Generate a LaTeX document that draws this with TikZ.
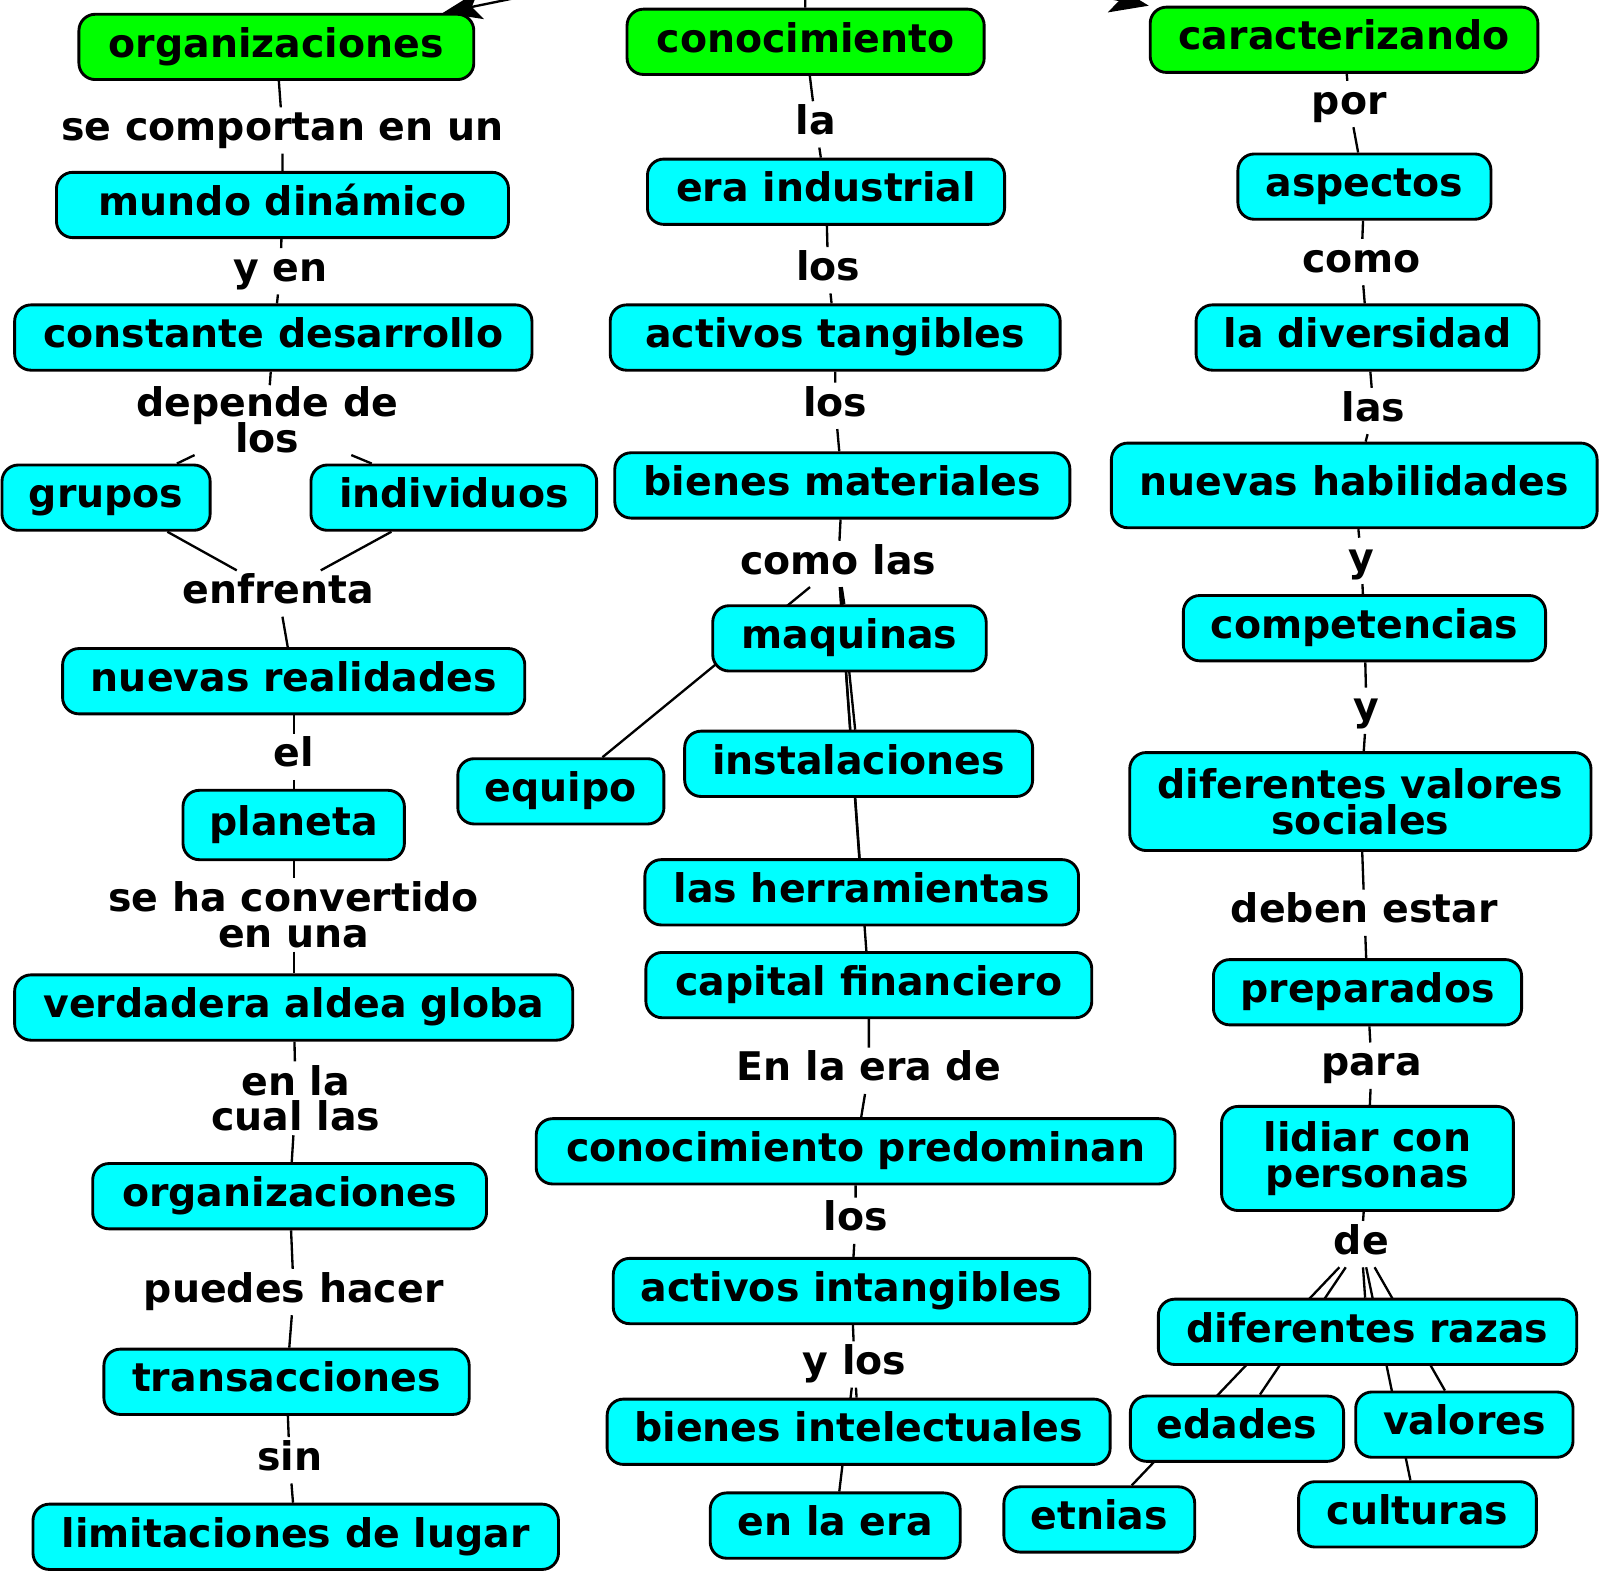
\documentclass[tikz,border=0pt]{standalone}
\usepackage{fontspec}
\newfontfamily\mapafont{DejaVu Sans}
\usetikzlibrary{arrows.meta,backgrounds}
\definecolor{cmcian}{RGB}{0,255,255}
\definecolor{cmverde}{RGB}{0,255,0}
\lineskiplimit=-10pt
\tikzset{
  concepto/.style={draw, line width=0.8pt, rounded corners=0.16cm, fill=cmcian,
    font=\mapafont\bfseries\fontsize{11}{10}\selectfont, align=center,
    text height=0.29cm, text depth=0.09cm, inner xsep=0.1cm, inner ysep=0.12cm,
    minimum height=0.64cm},
  tema/.style={concepto, fill=cmverde},
  enlace/.style={font=\mapafont\bfseries\fontsize{11}{10}\selectfont, align=center,
    text height=0.29cm, text depth=0.09cm, inner sep=0.03cm},
  doble/.style={text height=, text depth=},
  linea/.style={line width=0.65pt},
  flecha/.style={linea, -{Stealth[length=0.38cm,width=0.28cm,inset=0.09cm]}}
}
\begin{document}
\begin{tikzpicture}[x=0.01cm, y=-0.01cm]
\useasboundingbox (0,0) rectangle (1568,1548);
\clip (0,0) rectangle (1568,1548);
\coordinate (raiz) at (789,-60);
% columna izquierda
\node[tema, minimum width=3.87cm] (orgA) at (271,46) {organizaciones};
\node[enlace] (comportan) at (277,128) {se comportan en un};
\node[concepto, minimum width=4.43cm] (mundo) at (277,201) {mundo dinámico};
\node[enlace] (yen) at (275,266) {y en};
\node[concepto, minimum width=5.07cm] (constante) at (268,331) {constante desarrollo};
\node[enlace, doble, inner sep=0.01cm] (depende) at (262,412) {depende de\\los};
\node[concepto, minimum width=2.04cm] (grupos) at (104,488) {grupos};
\node[concepto, minimum width=2.80cm] (individuos) at (445,488) {individuos};
\node[enlace] (enfrenta) at (273,582) {enfrenta};
\node[concepto, minimum width=4.53cm] (realidades) at (288,668) {nuevas realidades};
\node[enlace] (el) at (288,742) {el};
\node[concepto, minimum width=2.17cm, minimum height=0.68cm] (planeta) at (288,809) {planeta};
\node[enlace, doble] (convertido) at (288,897) {se ha convertido\\en una};
\node[concepto, minimum width=5.47cm] (aldea) at (288,988) {verdadera aldea globa};
\node[enlace, doble] (cual) at (290,1077) {en la\\cual las};
\node[concepto, minimum width=3.86cm] (orgB) at (284,1173) {organizaciones};
\node[enlace] (puedes) at (288,1267) {puedes hacer};
\node[concepto, minimum width=3.58cm] (transacciones) at (281,1355) {transacciones};
\node[enlace] (sin) at (284,1432) {sin};
\node[concepto, minimum width=5.15cm] (limitaciones) at (290,1507) {limitaciones de lugar};
% columna central
\node[tema, minimum width=3.50cm] (conoc) at (790,41) {conocimiento};
\node[enlace] (la) at (800,122) {la};
\node[concepto, minimum width=3.50cm] (eraind) at (810,188) {era industrial};
\node[enlace] (losA) at (812,265) {los};
\node[concepto, minimum width=4.41cm] (tangibles) at (819,331) {activos tangibles};
\node[enlace] (losB) at (819,398) {los};
\node[concepto, minimum width=4.46cm] (materiales) at (826,476) {bienes materiales};
\node[enlace] (comolas) at (822,553) {como las};
\node[concepto, minimum width=2.68cm] (maquinas) at (833,626) {maquinas};
\node[concepto, minimum width=2.02cm] (equipo) at (550,776) {equipo};
\node[concepto, minimum width=3.41cm] (instal) at (842,749) {instalaciones};
\node[concepto, minimum width=4.25cm] (herram) at (845,875) {las herramientas};
\node[concepto, minimum width=4.37cm] (capital) at (852,966) {capital financiero};
\node[enlace] (eraDe) at (852,1050) {En la era de};
\node[concepto, minimum width=6.26cm] (predominan) at (839,1129) {conocimiento predominan};
\node[enlace] (losC) at (839,1197) {los};
\node[concepto, minimum width=4.67cm] (intangibles) at (835,1266) {activos intangibles};
\node[enlace] (ylos) at (838,1338) {y los};
\node[concepto, minimum width=4.93cm] (intelectuales) at (842,1404) {bienes intelectuales};
\node[concepto, minimum width=2.45cm] (enlaera) at (819,1496) {en la era};
% columna derecha
\node[tema, minimum width=3.80cm] (caract) at (1318,39) {caracterizando};
\node[enlace] (por) at (1323,102) {por};
\node[concepto, minimum width=2.48cm] (aspectos) at (1338,183) {aspectos};
\node[enlace] (como) at (1335,257) {como};
\node[concepto, minimum width=3.36cm] (diversidad) at (1341,331) {la diversidad};
\node[enlace] (las) at (1347,403) {las};
\node[concepto, minimum width=4.76cm, minimum height=0.83cm] (habilidades) at (1328,476) {nuevas habilidades};
\node[enlace] (yA) at (1335,550) {y};
\node[concepto, minimum width=3.55cm] (competencias) at (1338,616) {competencias};
\node[enlace] (yB) at (1340,697) {y};
\node[concepto, doble, minimum width=4.52cm, minimum height=0.96cm] (valsoc) at (1334,786) {diferentes valores\\sociales};
\node[enlace] (deben) at (1338,895) {deben estar};
\node[concepto, minimum width=3.02cm] (preparados) at (1341,973) {preparados};
\node[enlace] (para) at (1345,1045) {para};
\node[concepto, doble, minimum width=2.86cm, minimum height=1.02cm] (lidiar) at (1341,1136) {lidiar con\\personas};
\node[enlace] (de) at (1335,1220) {de};
\node[concepto, minimum width=4.10cm] (razas) at (1341,1306) {diferentes razas};
\node[concepto, minimum width=2.09cm] (edades) at (1213,1401) {edades};
\node[concepto, minimum width=2.13cm] (valores) at (1436,1397) {valores};
\node[concepto, minimum width=1.87cm] (etnias) at (1078,1490) {etnias};
\node[concepto, minimum width=2.33cm] (culturas) at (1390,1485) {culturas};
% conectores
\begin{scope}[on background layer]
\draw[flecha] (raiz) -- (orgA);
\draw[flecha] (raiz) -- (caract.north west);
\draw[linea] (raiz) -- (conoc);
\draw[linea] (orgA) -- (comportan) -- (mundo);
\draw[linea] (mundo) -- (yen) -- (constante);
\draw[linea] (constante) -- (depende);
\draw[linea] (depende) -- (grupos);
\draw[linea] (depende) -- (individuos);
\draw[linea] (grupos) -- (enfrenta);
\draw[linea] (individuos) -- (enfrenta);
\draw[linea] (enfrenta) -- (realidades);
\draw[linea] (realidades) -- (el) -- (planeta);
\draw[linea] (planeta) -- (convertido) -- (aldea);
\draw[linea] (aldea) -- (cual) -- (orgB);
\draw[linea] (orgB) -- (puedes) -- (transacciones);
\draw[linea] (transacciones) -- (sin) -- (limitaciones);
\draw[linea] (conoc) -- (la) -- (eraind);
\draw[linea] (eraind) -- (losA) -- (tangibles);
\draw[linea] (tangibles) -- (losB) -- (materiales);
\draw[linea] (materiales) -- (comolas);
\foreach \destino in {maquinas,equipo,instal,herram,capital}
  \draw[linea] (comolas) -- (\destino);
\draw[linea] (capital) -- (eraDe) -- (predominan);
\draw[linea] (predominan) -- (losC) -- (intangibles);
\draw[linea] (intangibles) -- (ylos);
\foreach \destino in {intelectuales,enlaera}
  \draw[linea] (ylos) -- (\destino);
\draw[linea] (caract) -- (por) -- (aspectos);
\draw[linea] (aspectos) -- (como) -- (diversidad);
\draw[linea] (diversidad) -- (las) -- (habilidades);
\draw[linea] (habilidades) -- (yA) -- (competencias);
\draw[linea] (competencias) -- (yB) -- (valsoc);
\draw[linea] (valsoc) -- (deben) -- (preparados);
\draw[linea] (preparados) -- (para) -- (lidiar);
\draw[linea] (lidiar) -- (de);
\foreach \destino in {razas,edades,valores,etnias,culturas}
  \draw[linea] (de) -- (\destino);
\end{scope}
\end{tikzpicture}
\end{document}
